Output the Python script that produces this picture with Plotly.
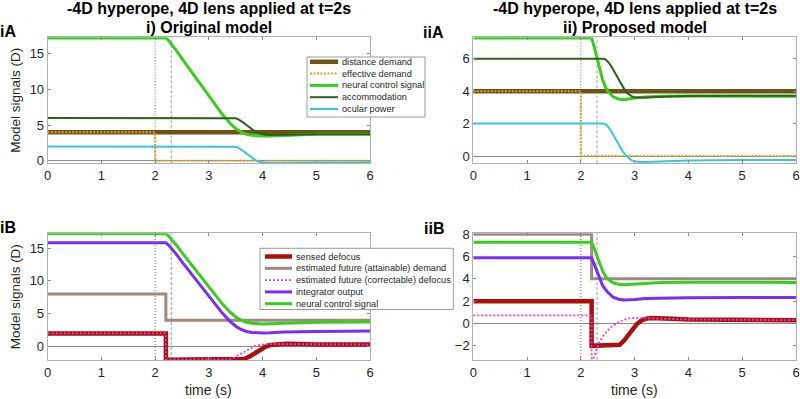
import plotly.graph_objects as go

# ---------------- data ----------------
x_ticks = [0, 1, 2, 3, 4, 5, 6]
event_times = [2.0, 2.3]          # lens applied / delay marker

# --- i) Original model, panel A
t_dist = [0, 6]
distance_demand = [4, 4]
t_eff = [0, 2, 2, 6]
effective_demand = [4, 4, 0, 0]

t_neur_o = [0, 2.2, 2.25, 2.3, 2.4, 2.5, 2.75, 3.0, 3.25, 3.4, 3.5, 3.6, 3.7, 3.8, 3.9, 4.0, 4.15, 4.4, 5.0, 6.0]
neural_orig = [17.2, 17.2, 16.85, 16.4, 15.4, 14.3, 11.7, 9.1, 6.5, 5.2, 4.5, 4.0, 3.7, 3.55, 3.47, 3.45, 3.47, 3.55, 3.7, 3.72]

t_acc_o = [0, 3.45, 3.5, 3.55, 3.6, 3.65, 3.7, 3.75, 3.8, 3.85, 3.9, 3.95, 4.0, 4.1, 4.25, 4.5, 5.0, 6.0]
accom_orig = [6.0, 6.0, 5.95, 5.8, 5.6, 5.3, 5.0, 4.7, 4.4, 4.15, 3.95, 3.8, 3.7, 3.6, 3.58, 3.62, 3.7, 3.72]
ocular_orig = [2.0, 2.0, 1.95, 1.8, 1.6, 1.3, 1.0, 0.7, 0.4, 0.15, -0.05, -0.18, -0.27, -0.32, -0.33, -0.3, -0.25, -0.22]

# --- i) Original model, panel B
t_sens_o = [0, 2.2, 2.2, 3.55, 3.65, 3.75, 3.85, 3.95, 4.05, 4.15, 4.3, 4.45, 4.7, 5.0, 6.0]
sensed_orig = [2, 2, -2, -2, -1.9, -1.55, -1.05, -0.5, -0.05, 0.25, 0.4, 0.43, 0.4, 0.33, 0.3]
t_att = [0, 2.2, 2.2, 6]
attainable_demand = [8, 8, 4, 4]
t_corr_o = [0, 2.2, 2.2, 3.36, 3.45, 3.55, 3.65, 3.75, 3.85, 3.95, 4.05, 4.2, 4.5, 5.0, 6.0]
correctable_orig = [2, 2, -2, -2, -1.75, -1.3, -0.8, -0.3, 0.05, 0.25, 0.35, 0.38, 0.35, 0.32, 0.3]
integrator_orig = [15.8, 15.8, 15.45, 15.0, 14.0, 12.9, 10.3, 7.7, 5.1, 3.8, 3.1, 2.6, 2.3, 2.15, 2.08, 2.07, 2.1, 2.2, 2.3, 2.35]

# --- ii) Proposed model, panel A
t_neur_p = [0, 2.2, 2.25, 2.3, 2.35, 2.4, 2.45, 2.5, 2.6, 2.7, 2.8, 2.9, 3.0, 3.2, 3.5, 4.0, 5.0, 6.0]
neural_prop = [7.28, 7.28, 6.7, 6.0, 5.3, 4.75, 4.3, 4.0, 3.65, 3.52, 3.47, 3.5, 3.57, 3.64, 3.68, 3.7, 3.7, 3.68]
t_acc_p = [0, 2.42, 2.47, 2.52, 2.57, 2.62, 2.67, 2.72, 2.77, 2.82, 2.87, 2.92, 2.97, 3.05, 3.2, 3.5, 4.0, 5.0, 6.0]
accom_prop = [6.0, 6.0, 5.93, 5.75, 5.5, 5.2, 4.9, 4.6, 4.3, 4.05, 3.85, 3.72, 3.64, 3.6, 3.6, 3.65, 3.7, 3.72, 3.72]
ocular_prop = [2.0, 2.0, 1.93, 1.75, 1.5, 1.2, 0.9, 0.6, 0.32, 0.1, -0.08, -0.22, -0.3, -0.36, -0.37, -0.32, -0.28, -0.25, -0.24]

# --- ii) Proposed model, panel B
t_sens_p = [0, 2.2, 2.2, 2.65, 2.72, 2.8, 2.88, 2.96, 3.04, 3.12, 3.2, 3.3, 3.45, 3.7, 4.0, 5.0, 6.0]
sensed_prop = [2, 2, -2, -2, -1.9, -1.55, -1.05, -0.5, -0.05, 0.25, 0.42, 0.5, 0.5, 0.42, 0.36, 0.3, 0.3]
t_corr_p = [0, 2.2, 2.2, 2.23, 2.28, 2.32, 2.4, 2.48, 2.57, 2.67, 2.78, 2.9, 3.05, 3.2, 3.5, 4.0, 5.0, 6.0]
correctable_prop = [0.72, 0.72, -3.6, -3.25, -2.5, -1.9, -1.2, -0.7, -0.3, 0.03, 0.3, 0.45, 0.5, 0.48, 0.42, 0.36, 0.32, 0.3]
integrator_prop = [5.9, 5.9, 5.3, 4.65, 4.0, 3.45, 3.1, 2.8, 2.35, 2.17, 2.1, 2.1, 2.15, 2.23, 2.28, 2.3, 2.32, 2.32]

yticks_A_orig = [0, 5, 10, 15]
yticks_A_prop = [0, 2, 4, 6]
yticks_B_orig = [0, 5, 10, 15]
yticks_B_prop = [-2, 0, 2, 4, 6, 8]

names_A = ["distance demand", "effective demand", "neural control signal", "accommodation", "ocular power"]
names_B = ["sensed defocus", "estimated future (attainable) demand",
           "estimated future (correctable) defocus", "integrator output", "neural control signal"]

# ---------------- styles ----------------
C_DIST = "#6B5416"
C_EFF = "#DDA020"
C_NEUR = "#36D01C"
C_ACC = "#2F5F1F"
C_OCU = "#35C9D1"
C_SENS = "#B00D0D"
C_ATT = "#A08883"
C_CORR = "#E040D8"
C_INT = "#7A2BFF"

style_A = [(C_DIST, 4.5, "solid"), (C_EFF, 2, "2px,1.5px"), (C_NEUR, 3, "solid"),
           (C_ACC, 2, "solid"), (C_OCU, 2, "solid")]
style_B = [(C_SENS, 4.5, "solid"), (C_ATT, 3, "solid"), (C_CORR, 1.8, "2px,2px"),
           (C_INT, 3, "solid"), (C_NEUR, 3, "solid")]

W, H = 800, 399
FONT = "Liberation Sans, Arial, sans-serif"
TXT = "#262626"

fig = go.Figure()


def add(x, y, ax, st):
    c, w, d = st
    xa = "x" if ax == 1 else f"x{ax}"
    ya = "y" if ax == 1 else f"y{ax}"
    fig.add_trace(go.Scatter(x=x, y=y, mode="lines", xaxis=xa, yaxis=ya,
                             line=dict(color=c, width=w, dash=d), showlegend=False,
                             hoverinfo="skip"))


# Panel iA
add(t_dist, distance_demand, 1, style_A[0])
add(t_eff, effective_demand, 1, style_A[1])
add(t_neur_o, neural_orig, 1, style_A[2])
add(t_acc_o, accom_orig, 1, style_A[3])
add(t_acc_o, ocular_orig, 1, style_A[4])
# Panel iiA
add(t_dist, distance_demand, 2, style_A[0])
add(t_eff, effective_demand, 2, style_A[1])
add(t_neur_p, neural_prop, 2, style_A[2])
add(t_acc_p, accom_prop, 2, style_A[3])
add(t_acc_p, ocular_prop, 2, style_A[4])
# Panel iB
add(t_sens_o, sensed_orig, 3, style_B[0])
add(t_att, attainable_demand, 3, style_B[1])
add(t_corr_o, correctable_orig, 3, style_B[2])
add(t_neur_o, integrator_orig, 3, style_B[3])
add(t_neur_o, neural_orig, 3, style_B[4])
# Panel iiB
add(t_sens_p, sensed_prop, 4, style_B[0])
add(t_att, attainable_demand, 4, style_B[1])
add(t_corr_p, correctable_prop, 4, style_B[2])
add(t_neur_p, integrator_prop, 4, style_B[3])
add(t_neur_p, neural_prop, 4, style_B[4])

# ---------------- axes ----------------
def px2x(p):
    return p / W


def py2y(p):
    return 1 - p / H


xdom_L = [px2x(47.7), px2x(370)]
xdom_R = [px2x(473.3), px2x(796)]
ydom_T = [py2y(163.3), py2y(37.3)]
ydom_B = [py2y(360), py2y(233.3)]

axis_common = dict(showline=True, mirror="ticks", linecolor="#b0b0b0", linewidth=1,
                   ticks="inside", ticklen=3, tickcolor="#8a8a8a", showgrid=False,
                   automargin=False,
                   tickfont=dict(family=FONT, size=13, color=TXT))

layout_axes = {}
for i, (xd, yd, yr, yt) in enumerate([
        (xdom_L, ydom_T, [-0.37, 17.3], yticks_A_orig),
        (xdom_R, ydom_T, [-0.45, 7.32], yticks_A_prop),
        (xdom_L, ydom_B, [-2.05, 17.25], yticks_B_orig),
        (xdom_R, ydom_B, [-3.27, 8.08], yticks_B_prop)], start=1):
    sx = "" if i == 1 else str(i)
    layout_axes[f"xaxis{sx}"] = dict(domain=xd, range=[0, 6], tickvals=x_ticks,
                                    anchor=f"y{sx}", zeroline=False, **axis_common)
    layout_axes[f"yaxis{sx}"] = dict(domain=yd, range=yr, tickvals=yt,
                                    anchor=f"x{sx}", zeroline=True,
                                    zerolinecolor="#8c8c8c", zerolinewidth=1, **axis_common)

for k in ["yaxis", "yaxis3"]:
    layout_axes[k]["title"] = dict(text="Model signals (D)", standoff=5,
                                   font=dict(family=FONT, size=13.5, color=TXT))

# ---------------- reference lines (event markers) ----------------
shapes = []
for sx in ["", "2", "3", "4"]:
    for tv, dash, col in zip(event_times, ["1px,2px", "3px,2px"], ["#444444", "#888888"]):
        shapes.append(dict(type="line", xref=f"x{sx}", yref=f"y{sx} domain",
                           x0=tv, x1=tv, y0=0, y1=1, layer="below",
                           line=dict(color=col, width=0.8, dash=dash)))

# ---------------- legends (drawn in paper space) ----------------
annotations = []


def legend(box, x_line, x_text, y_first, step, names, styles):
    bx0, by0, bx1, by1 = box
    shapes.append(dict(type="rect", xref="paper", yref="paper", layer="above",
                       x0=px2x(bx0), x1=px2x(bx1), y0=py2y(by1), y1=py2y(by0),
                       fillcolor="white", line=dict(color="#9a9a9a", width=1)))
    for k, (nm, (c, w, d)) in enumerate(zip(names, styles)):
        yc = y_first + step * k
        shapes.append(dict(type="line", xref="paper", yref="paper", layer="above",
                           x0=px2x(x_line[0]), x1=px2x(x_line[1]),
                           y0=py2y(yc), y1=py2y(yc),
                           line=dict(color=c, width=w, dash=d)))
        annotations.append(dict(xref="paper", yref="paper", x=px2x(x_text), y=py2y(yc),
                                xanchor="left", yanchor="middle", showarrow=False,
                                text=nm, font=dict(family=FONT, size=9.2, color=TXT)))


legend((307, 57, 425, 117), (310, 338), 340, 61.8, 11.8, names_A, style_A)
legend((260, 248.3, 453.3, 309.5), (265, 292), 294, 256.5, 11.8, names_B, style_B)

# ---------------- titles, axis titles & panel labels ----------------
for xc, sub in [((47.7 + 370) / 2, "i) Original model"), ((473.3 + 796) / 2, "ii) Proposed model")]:
    annotations.append(dict(xref="paper", yref="paper", x=px2x(xc), y=py2y(8.5),
                            xanchor="center", yanchor="middle", showarrow=False,
                            text="<b>-4D hyperope, 4D lens applied at t=2s</b>",
                            font=dict(family=FONT, size=16, color="#000000")))
    annotations.append(dict(xref="paper", yref="paper", x=px2x(xc), y=py2y(27.5),
                            xanchor="center", yanchor="middle", showarrow=False,
                            text=f"<b>{sub}</b>",
                            font=dict(family=FONT, size=16, color="#000000")))
    annotations.append(dict(xref="paper", yref="paper", x=px2x(xc), y=py2y(390),
                            xanchor="center", yanchor="middle", showarrow=False,
                            text="time (s)",
                            font=dict(family=FONT, size=14, color=TXT)))

for lbl, xr, yc in [("iA", 17.5, 31), ("iiA", 446, 32.5), ("iB", 17.5, 227.5), ("iiB", 446, 228)]:
    annotations.append(dict(xref="paper", yref="paper", x=px2x(xr), y=py2y(yc),
                            xanchor="right", yanchor="middle", showarrow=False,
                            text=f"<b>{lbl}</b>",
                            font=dict(family=FONT, size=16, color="#000000")))

fig.update_layout(width=W, height=H, margin=dict(l=0, r=0, t=0, b=0),
                  paper_bgcolor="white", plot_bgcolor="white",
                  shapes=shapes, annotations=annotations, **layout_axes)

fig.write_html("out.html")
